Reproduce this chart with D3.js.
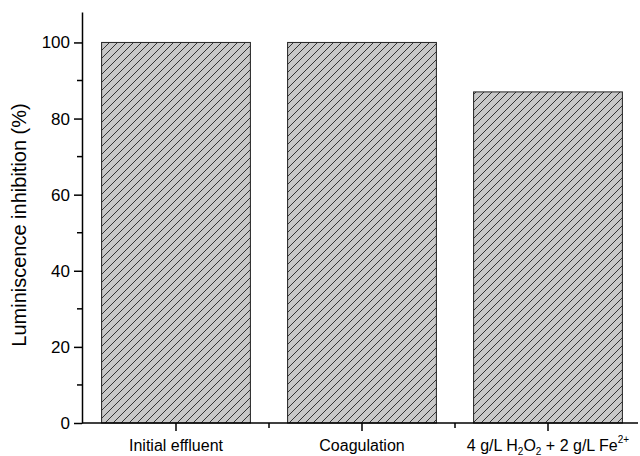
<!DOCTYPE html>
<html>
<head>
<meta charset="utf-8">
<script src="https://cdn.jsdelivr.net/npm/d3@7"></script>
<style>
  body { margin: 0; background: #fff; }
  text { font-family: "Liberation Sans", Arial, sans-serif; fill: #000; }
</style>
</head>
<body>
<script>
const categories = ['Initial effluent', 'Coagulation', 'fenton'];
const inhibition = [100, 100, 87];
const y_ticks = [0, 20, 40, 60, 80, 100];
const y_minor = [10, 30, 50, 70, 90];

const width = 640, height = 456;
const m = { left: 82, right: 0, top: 12, bottom: 34 };

const svg = d3.select('body').append('svg')
    .attr('width', width)
    .attr('height', height);

// hatch fill
const pat = svg.append('defs').append('pattern')
    .attr('id', 'hatch')
    .attr('patternUnits', 'userSpaceOnUse')
    .attr('width', 8)
    .attr('height', 8);
pat.append('rect').attr('width', 8).attr('height', 8).attr('fill', '#c8c8c8');
pat.append('path')
    .attr('d', 'M-2,2 L2,-2 M0,8 L8,0 M6,10 L10,6')
    .attr('stroke', '#333')
    .attr('stroke-width', 1);

const x = d3.scaleBand()
    .domain(categories)
    .range([m.left + 1, 641])
    .paddingInner(0.2)
    .paddingOuter(0.1);

const y = d3.scaleLinear()
    .domain([0, 108])
    .range([423, 12]);

svg.selectAll('.bar')
    .data(categories.map((c, i) => ({ c, v: inhibition[i] })))
    .enter()
    .append('rect')
        .attr('class', 'bar')
        .attr('x', d => x(d.c))
        .attr('y', d => y(d.v))
        .attr('width', x.bandwidth())
        .attr('height', d => y(0) - y(d.v))
        .attr('fill', 'url(#hatch)')
        .attr('stroke', '#222')
        .attr('stroke-width', 1);

// y axis
const yAxis = svg.append('g')
    .attr('transform', `translate(${m.left},0)`)
    .call(d3.axisLeft(y).tickValues(y_ticks).tickSize(8).tickPadding(4).tickSizeOuter(0));
yAxis.select('.domain').attr('stroke', '#000').attr('stroke-width', 1.5);
yAxis.selectAll('.tick line').attr('stroke-width', 1.5);
yAxis.selectAll('text').style('font-size', '17px');
svg.append('g')
    .attr('transform', `translate(${m.left},0)`)
    .selectAll('line')
    .data(y_minor)
    .enter()
    .append('line')
        .attr('x1', -5).attr('x2', 0)
        .attr('y1', d => y(d)).attr('y2', d => y(d))
        .attr('stroke', '#000')
        .attr('stroke-width', 1.5);

// x axis
const xAxis = svg.append('g')
    .attr('transform', `translate(0,${y(0)})`)
    .call(d3.axisBottom(x).tickSize(8).tickSizeOuter(0).tickFormat(''));
xAxis.select('.domain').attr('d', `M${m.left},0H638`).attr('stroke', '#000').attr('stroke-width', 1.5);
xAxis.selectAll('.tick line').attr('stroke-width', 1.5);

// minor ticks at band edges
const step = x.step();
const edges = [1, 2].map(i => x(categories[i]) + x.bandwidth() / 2 - step / 2);
svg.append('g')
    .attr('transform', `translate(0,${y(0)})`)
    .selectAll('line')
    .data(edges)
    .enter()
    .append('line')
        .attr('x1', d => d).attr('x2', d => d)
        .attr('y1', 0).attr('y2', 5)
        .attr('stroke', '#000')
        .attr('stroke-width', 1.5);

// category labels
const lab = svg.append('g').style('font-size', '16px');
categories.slice(0, 2).forEach(c => {
    lab.append('text')
        .attr('x', x(c) + x.bandwidth() / 2)
        .attr('y', 451)
        .attr('text-anchor', 'middle')
        .text(c);
});
const t3 = lab.append('text')
    .attr('x', x('fenton') + x.bandwidth() / 2)
    .attr('y', 451)
    .attr('text-anchor', 'middle');
t3.append('tspan').text('4 g/L H');
t3.append('tspan').attr('dy', 4).style('font-size', '10px').text('2');
t3.append('tspan').attr('dy', -4).text('O');
t3.append('tspan').attr('dy', 4).style('font-size', '10px').text('2');
t3.append('tspan').attr('dy', -4).text(' + 2 g/L Fe');
t3.append('tspan').attr('dy', -8).style('font-size', '10px').text('2+');

// y title
svg.append('text')
    .attr('transform', 'translate(26,225) rotate(-90)')
    .attr('text-anchor', 'middle')
    .style('font-size', '20px')
    .text('Luminiscence inhibition (%)');
</script>
</body>
</html>
